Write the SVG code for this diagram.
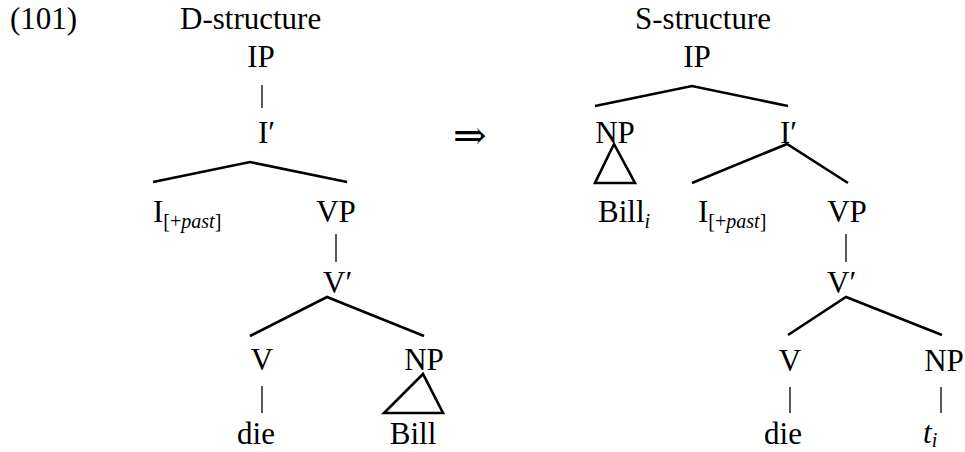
<svg xmlns="http://www.w3.org/2000/svg" width="965" height="452" viewBox="0 0 965 452">
  <style>
    text { font-family: "Liberation Serif", "DejaVu Serif", serif; font-size: 31px; fill: #000; }
    .c { text-anchor: middle; }
    .sub { font-size: 20px; }
    .it { font-style: italic; }
    .br { stroke: #000; stroke-width: 2.6; fill: none; stroke-linecap: butt; stroke-linejoin: miter; }
    .bar { stroke: #000; stroke-width: 1.3; fill: none; }
  </style>
  <rect width="965" height="452" fill="#fff"/>

  <!-- example number and titles -->
  <g id="label">
    <text x="10" y="29">(101)</text>
  </g>
  <g id="d-title"><text x="180" y="29">D-structure</text></g>
  <g id="s-title"><text x="635" y="29">S-structure</text></g>

  <!-- D-structure tree nodes -->
  <g id="d-ip"><text class="c" x="261" y="67">IP</text></g>
  <g id="d-ibar"><text x="258" y="143">I′</text></g>
  <g id="d-i"><text x="153" y="222">I<tspan class="sub" dy="6">[+<tspan class="it">past</tspan>]</tspan></text></g>
  <g id="d-vp"><text class="c" x="336" y="222">VP</text></g>
  <g id="d-vbar"><text x="323" y="293">V′</text></g>
  <g id="d-v"><text class="c" x="262" y="370">V</text></g>
  <g id="d-np"><text class="c" x="424" y="370">NP</text></g>
  <g id="d-die"><text class="c" x="256" y="444">die</text></g>
  <g id="d-bill"><text class="c" x="413" y="444">Bill</text></g>

  <!-- derivation arrow -->
  <g id="arrow"><text x="453" y="149" style="font-family: 'DejaVu Serif', 'Liberation Serif', serif; font-size: 40px;">⇒</text></g>

  <!-- S-structure tree nodes -->
  <g id="s-ip"><text class="c" x="697" y="67">IP</text></g>
  <g id="s-np"><text class="c" x="615" y="143">NP</text></g>
  <g id="s-ibar"><text x="780" y="143">I′</text></g>
  <g id="s-bill"><text x="598" y="222">Bill<tspan class="sub it" dy="6">i</tspan></text></g>
  <g id="s-i"><text x="698" y="222">I<tspan class="sub" dy="6">[+<tspan class="it">past</tspan>]</tspan></text></g>
  <g id="s-vp"><text class="c" x="847" y="222">VP</text></g>
  <g id="s-vbar"><text x="827" y="293">V′</text></g>
  <g id="s-v"><text class="c" x="790" y="371">V</text></g>
  <g id="s-np2"><text class="c" x="944" y="371">NP</text></g>
  <g id="s-die"><text class="c" x="783" y="444">die</text></g>
  <g id="s-trace"><text class="it" x="923" y="443">t<tspan class="sub" dy="4">i</tspan></text></g>

  <!-- branches -->
  <g id="connectors">
    <!-- D-structure -->
    <line class="bar" x1="262" y1="85" x2="262" y2="108"/>
    <polyline class="br" points="153,182 250,162 347,182"/>
    <line class="bar" x1="336" y1="234" x2="336" y2="262"/>
    <polyline class="br" points="250,336 327,297 424,336"/>
    <line class="bar" x1="262" y1="386" x2="262" y2="413"/>
    <polygon class="br" points="423,374 384,413 443,413"/>
    <!-- S-structure -->
    <polyline class="br" points="595,106 692,86 788,106"/>
    <polygon class="br" points="614,144 595,183 635,183"/>
    <polyline class="br" points="692,183 787,144 848,183"/>
    <line class="bar" x1="846" y1="234" x2="846" y2="262"/>
    <polyline class="br" points="788,335 846,297 942,335"/>
    <line class="bar" x1="790" y1="387" x2="790" y2="413"/>
    <line class="bar" x1="941" y1="387" x2="941" y2="413"/>
  </g>
</svg>
